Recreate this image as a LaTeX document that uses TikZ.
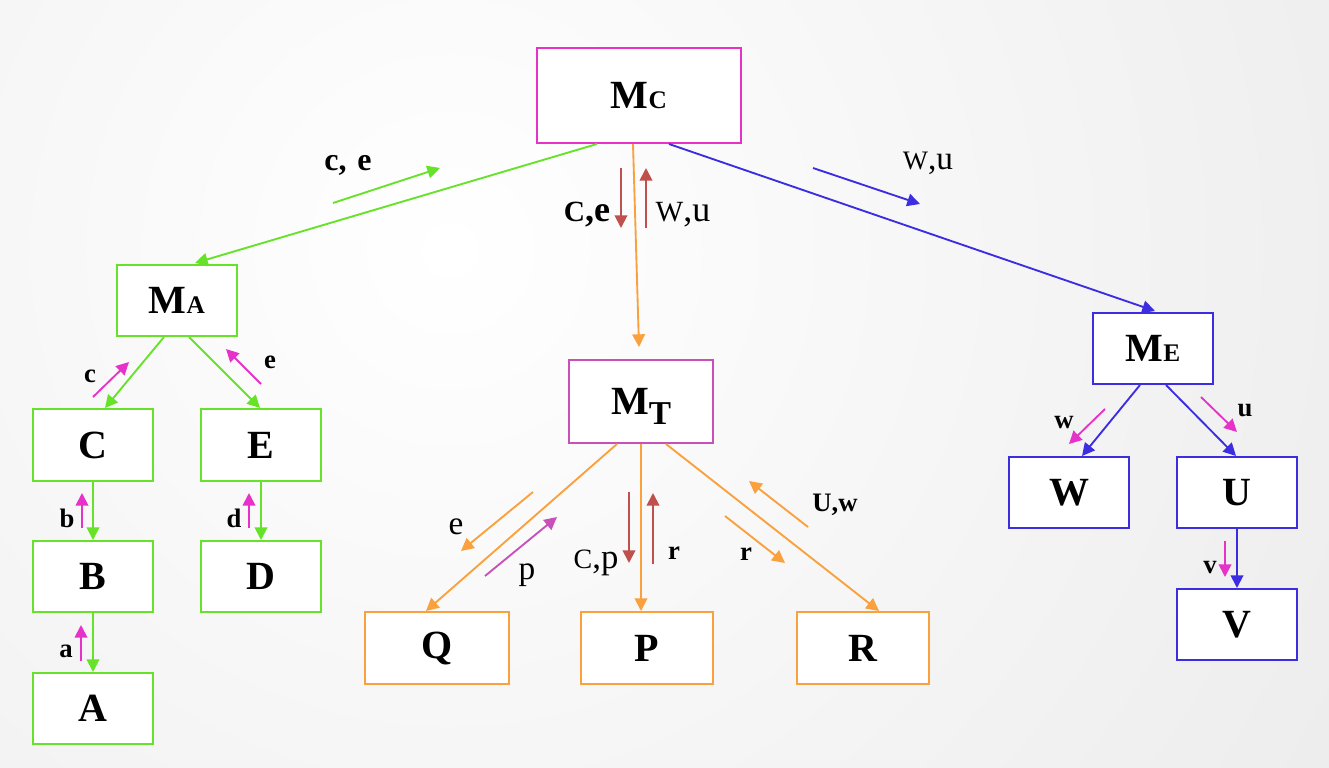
\documentclass[tikz,border=0pt]{standalone}
\usepackage{fontspec}
\setmainfont{Liberation Serif}
\usetikzlibrary{arrows.meta,calc}
\definecolor{mag}{RGB}{230,50,200}
\definecolor{grn}{RGB}{102,226,40}
\definecolor{blu}{RGB}{60,45,225}
\definecolor{org}{RGB}{250,160,60}
\definecolor{pur}{RGB}{200,80,185}
\definecolor{rdb}{RGB}{192,80,77}
\newcommand{\fs}[1]{\fontsize{#1}{#1}\selectfont}
\tikzset{
  box/.style={draw, line width=1.5pt, fill=white, inner sep=0pt, font=\bfseries\fs{30}},
  lbl/.style={inner sep=0pt, anchor=center},
  con/.style={line width=1.4pt, -{Triangle[width=9.5pt,length=9.5pt]}},
  tag/.style={line width=1.4pt, -{Triangle[width=9.5pt,length=9.5pt]}}
}
\begin{document}
\begin{tikzpicture}[x=0.75pt,y=-0.75pt]
\useasboundingbox (0,0) rectangle (1329,768);
\begin{scope}
\clip (0,0) rectangle (1329,768);
\shade[inner color=white, outer color=black!14] (450,250) circle (2000);
\end{scope}
% boxes
\node[box, draw=mag, minimum width=204*0.75pt, minimum height=95*0.75pt] (Mc) at (639,95.5) {M{\fs{19}C}};
\node[box, draw=grn, minimum width=120*0.75pt, minimum height=71*0.75pt] (MA) at (177,300.5) {M{\fs{19}A}};
\node[box, draw=grn, minimum width=120*0.75pt, minimum height=72*0.75pt] (C) at (93,445) {C};
\node[box, draw=grn, minimum width=120*0.75pt, minimum height=72*0.75pt] (E) at (261,445) {E};
\node[box, draw=grn, minimum width=120*0.75pt, minimum height=71*0.75pt] (B) at (93,576.5) {B};
\node[box, draw=grn, minimum width=120*0.75pt, minimum height=71*0.75pt] (D) at (261,576.5) {D};
\node[box, draw=grn, minimum width=120*0.75pt, minimum height=71*0.75pt] (A) at (93,708.5) {A};
\node[box, draw=pur, minimum width=144*0.75pt, minimum height=83*0.75pt] (MT) at (641,401.5) {M\smash{\raisebox{-7.5pt}{\fs{25}T}}};
\node[box, draw=org, minimum width=144*0.75pt, minimum height=72*0.75pt] (Q) at (437,648) {Q};
\node[box, draw=org, minimum width=132*0.75pt, minimum height=72*0.75pt] (P) at (647,648) {P};
\node[box, draw=org, minimum width=132*0.75pt, minimum height=72*0.75pt] (R) at (863,648) {R};
\node[box, draw=blu, minimum width=120*0.75pt, minimum height=71*0.75pt] (ME) at (1153,348.5) {M{\fs{19}E}};
\node[box, draw=blu, minimum width=120*0.75pt, minimum height=71*0.75pt] (W) at (1069,492.5) {W};
\node[box, draw=blu, minimum width=120*0.75pt, minimum height=71*0.75pt] (U) at (1237,492.5) {U};
\node[box, draw=blu, minimum width=120*0.75pt, minimum height=71*0.75pt] (V) at (1237,624.5) {V};
% connectors
\draw[con, grn] ($(Mc.south)+(-42,0)$) -- ($(MA.north)+(18,-1)$);
\draw[con, org] ($(Mc.south)+(-6,0)$) -- ($(MT.north)+(-2,-12)$);
\draw[con, blu] ($(Mc.south)+(30,0)$) -- ($(ME.north)+(2,-1)$);
\draw[con, grn] ($(MA.south)+(-13,0)$) -- ($(C.north)+(12,0)$);
\draw[con, grn] ($(MA.south)+(12,0)$) -- ($(E.north)+(-1,0)$);
\draw[con, grn] (C.south) -- (B.north);
\draw[con, grn] (E.south) -- (D.north);
\draw[con, grn] (B.south) -- (A.north);
\draw[con, org] ($(MT.south)+(-24,0)$) -- ($(Q.north)+(-11,0)$);
\draw[con, org] (MT.south) -- ($(P.north)+(-6,0)$);
\draw[con, org] ($(MT.south)+(25,0)$) -- ($(R.north)+(16,0)$);
\draw[con, blu] ($(ME.south)+(-13,0)$) -- ($(W.north)+(13,0)$);
\draw[con, blu] ($(ME.south)+(13,0)$) -- ($(U.north)+(-1,0)$);
\draw[con, blu] (U.south) -- (V.north);
% flow arrows and labels
\draw[tag, grn] (333,203) -- (440,168);
\node[lbl, font=\bfseries\fs{24}] (l1) at (348,165) {c,\,\,e};
\draw[tag, blu] (813,168) -- (920,204);
\node[lbl, font=\fs{25}] (l2) at (928,163) {{\fs{20}W},u};
\draw[tag, rdb] (621,168) -- (621,228);
\draw[tag, rdb] (646,228) -- (646,168);
\node[lbl, font=\bfseries\fs{27}] (l3) at (587,215) {{\fs{22}C},e};
\node[lbl, font=\fs{27}] (l4) at (683,215) {{\fs{22}W},u};
\draw[tag, mag] (93,397) -- (129,362);
\node[lbl, font=\bfseries\fs{20}] (l5) at (90,376) {c};
\draw[tag, mag] (261,384) -- (226,349);
\node[lbl, font=\bfseries\fs{20}] (l6) at (270,362) {e};
\draw[tag, mag] (82,528) -- (82,493);
\node[lbl, font=\bfseries\fs{20}] (l7) at (67,518) {b};
\draw[tag, mag] (249,528) -- (249,493);
\node[lbl, font=\bfseries\fs{20}] (l8) at (234,518) {d};
\draw[tag, mag] (81,661) -- (81,625);
\node[lbl, font=\bfseries\fs{20}] (l9) at (66,651) {a};
\draw[tag, org] (533,492) -- (461,551);
\node[lbl, font=\fs{25}] (l10) at (456,527) {e};
\draw[tag, pur] (485,576) -- (557,517);
\node[lbl, font=\fs{25}] (l11) at (527,575) {p};
\draw[tag, rdb] (629,492) -- (629,563);
\node[lbl, font=\fs{26}] (l12) at (596,563) {{\fs{21}C},p};
\draw[tag, rdb] (653,564) -- (653,493);
\node[lbl, font=\bfseries\fs{20}] (l13) at (674,553) {r};
\draw[tag, org] (725,516) -- (785,563);
\node[lbl, font=\bfseries\fs{20}] (l14) at (746,554) {r};
\draw[tag, org] (808,527) -- (749,481);
\node[lbl, font=\bfseries\fs{20}] (l15) at (835,505) {U,w};
\draw[tag, mag] (1105,409) -- (1069,444);
\node[lbl, font=\bfseries\fs{20}] (l16) at (1064,423) {w};
\draw[tag, mag] (1201,397) -- (1237,432);
\node[lbl, font=\bfseries\fs{20}] (l17) at (1245,411) {u};
\draw[tag, mag] (1225,541) -- (1225,577);
\node[lbl, font=\bfseries\fs{20}] (l18) at (1210,568) {v};
\end{tikzpicture}
\end{document}
